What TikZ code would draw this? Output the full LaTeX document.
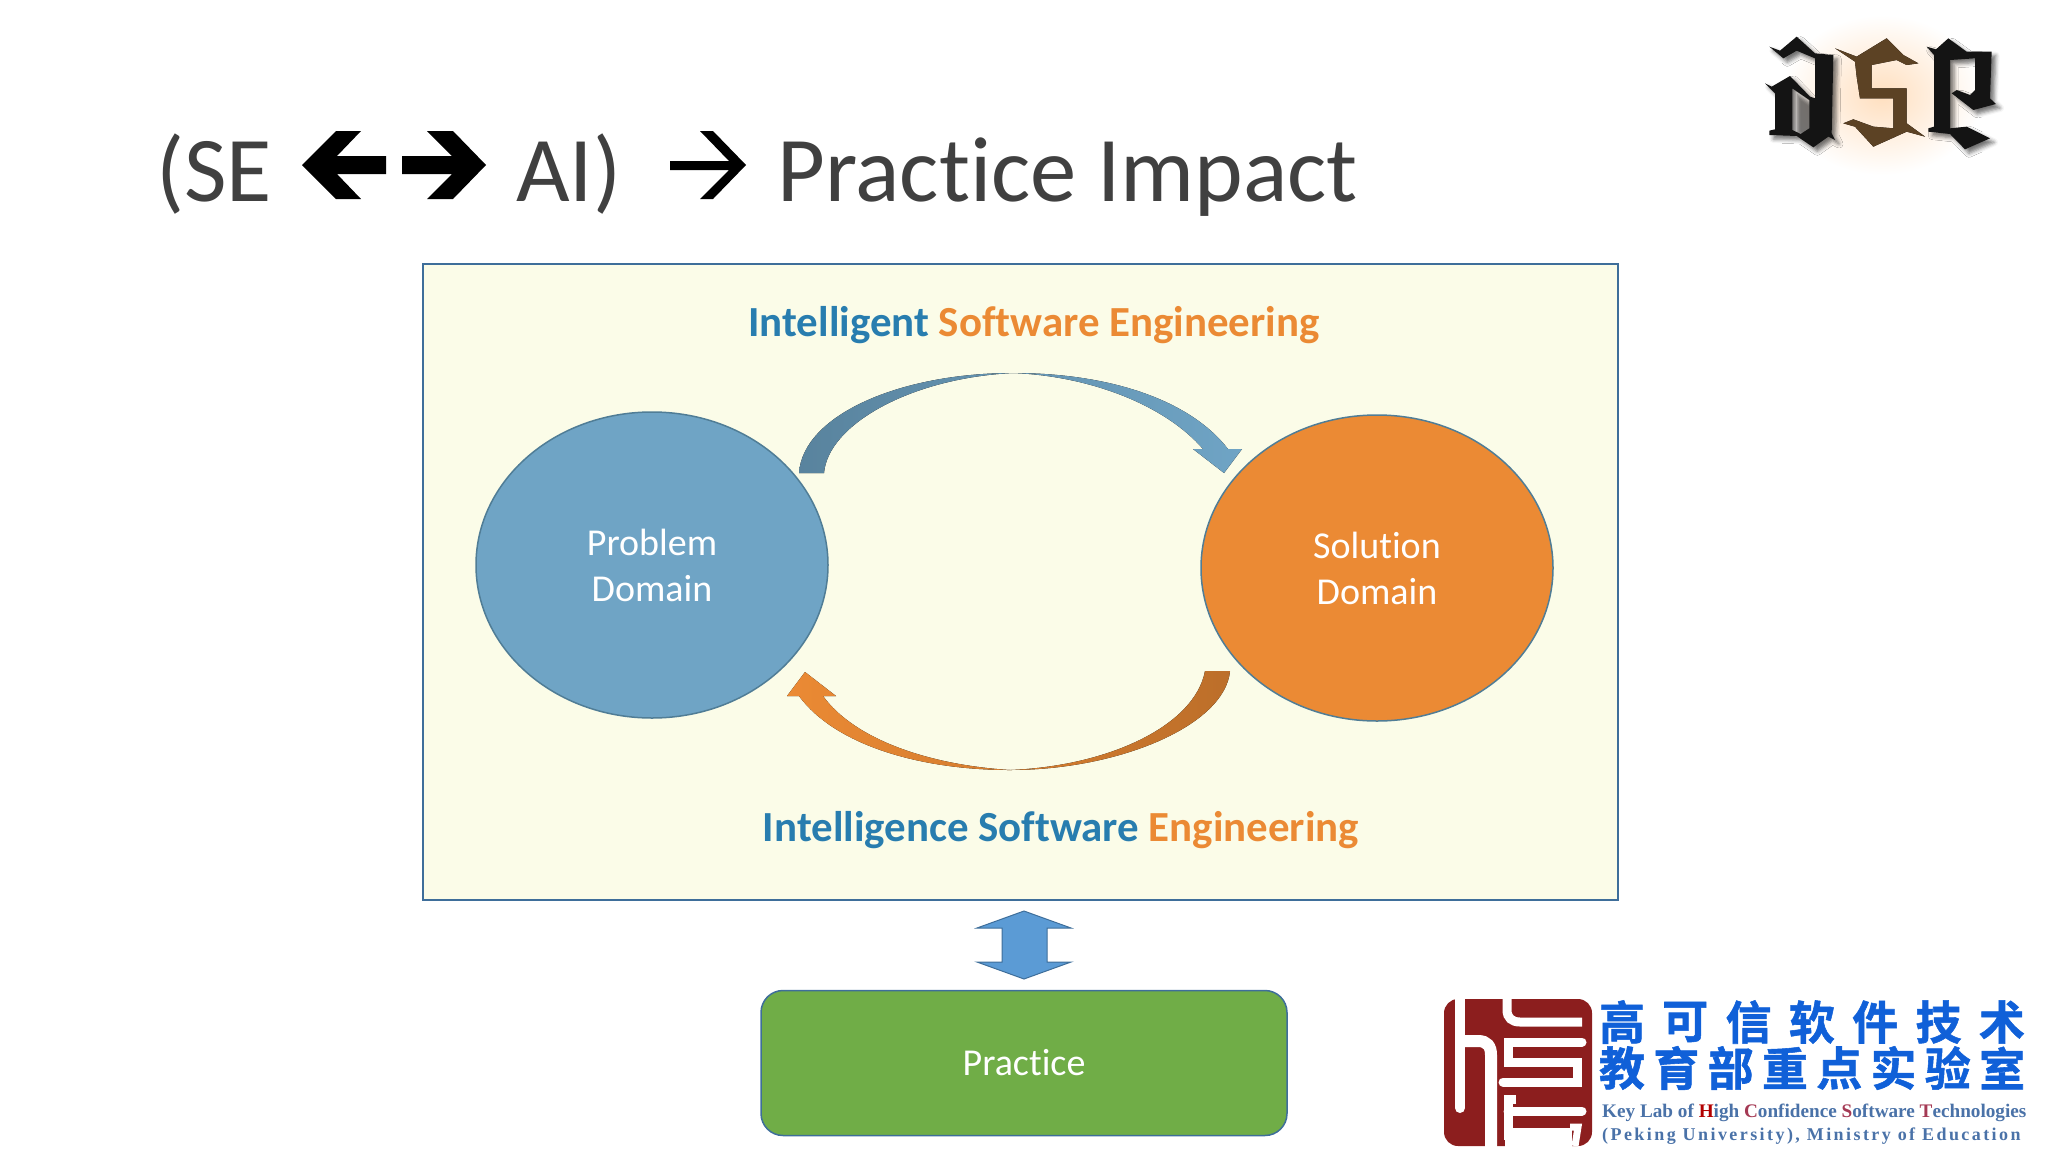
\documentclass[tikz,border=0pt]{standalone}
\usepackage{fontspec}
\usepackage{xcolor}
\usepackage{tikz}
\usetikzlibrary{shapes.geometric, shadows.blur}
\setmainfont{Carlito}[Ligatures=NoCommon]
\newfontfamily\cjkfont{Noto Sans CJK SC}[BoldFont={* Bold}, BoldFeatures={FakeBold=1.2}]
\newfontfamily\labserif{Liberation Serif}
\newfontfamily\labserifwide{Liberation Serif}[LetterSpace=13.5]
\definecolor{panelfill}{RGB}{251, 252, 232}
\definecolor{paneledge}{RGB}{62, 110, 154}
\definecolor{domainblue}{RGB}{111, 164, 197}
\definecolor{domainedge}{RGB}{80, 125, 150}
\definecolor{domainorange}{RGB}{235, 138, 52}
\definecolor{labelblue}{RGB}{40, 125, 175}
\definecolor{practicegreen}{RGB}{112, 173, 71}
\definecolor{linkblue}{RGB}{91, 155, 213}
\definecolor{logored}{RGB}{140, 30, 30}
\definecolor{logoblue}{RGB}{16, 96, 216}
\definecolor{logogrey}{RGB}{74, 114, 168}
\definecolor{logogold}{RGB}{196, 140, 50}
\definecolor{logobrown}{RGB}{92, 66, 36}

\begin{document}
\begin{tikzpicture}[
          x=1pt, y=-1pt,
          titletext/.style={anchor=base west, inner sep=0pt, font=\fontsize{92.6}{100}\selectfont, color=black!75},
          headtext/.style={anchor=base, inner sep=0pt, font=\fontsize{42.9}{48}\selectfont\bfseries},
          domainbox/.style={ellipse, draw=domainedge, line width=1.5pt, minimum width=352pt, minimum height=306pt, inner sep=0pt, align=center, text=white, font=\fontsize{38}{46}\selectfont},
          practicebox/.style={rectangle, draw=paneledge, fill=practicegreen, line width=1.5pt, rounded corners=22pt, minimum width=526pt, minimum height=145pt, text=white, font=\fontsize{38}{46}\selectfont},
          cjkrow/.style={inner sep=0pt, text=logoblue, font=\fontsize{46}{46}\selectfont\cjkfont\bfseries},
          logoline/.style={line width=9pt, draw=white, line cap=round},
          logoink/.style={fill=black!92, blur shadow={shadow xshift=4pt, shadow yshift=-4pt, shadow blur radius=4pt, shadow opacity=55}}
        ]
          \useasboundingbox (0,0) rectangle (2048,1152);

          % Title
          \node[titletext] (titleleft) at (156, 201) {(SE};
          \node[titletext] (titleai) at (516, 201) {AI)};
          \node[titletext] (titleimpact) at (777, 201) {Practice Impact};
          \fill (302,165) -- (336,131) -- (361,131) -- (337,156) -- (386,156) -- (386,174) -- (337,174) -- (361,199) -- (336,199) -- cycle;
          \fill (486,165) -- (453,131) -- (427,131) -- (452,156) -- (402,156) -- (402,174) -- (452,174) -- (427,199) -- (453,199) -- cycle;
          \fill (746,165) -- (713,131) -- (700,131) -- (729,161) -- (670,161) -- (670,170) -- (729,170) -- (700,199) -- (713,199) -- cycle;

          % Panel background
          \node[rectangle, draw=paneledge, fill=panelfill, line width=1.5pt, minimum width=1195pt, minimum height=636pt, inner sep=0pt] (panel) at (1020.5, 582) {};
          \node[headtext] (headtop) at (1034, 336) {\textcolor{labelblue}{Intelligent} \textcolor{domainorange}{Software Engineering}};
          \node[headtext] (headbottom) at (1061, 841) {\textcolor{labelblue}{Intelligence Software} \textcolor{domainorange}{Engineering}};

          % Domains
          \node[domainbox, fill=domainblue] (problem) at (652, 565) {Problem\\Domain};
          \node[domainbox, fill=domainorange] (solution) at (1377, 568) {Solution\\Domain};

          % Curved arrows between the domains
          \fill[left color=domainblue!80!black, right color=domainblue] (799,473) .. controls (803,415) and (900,373) .. (1013,373) .. controls (1110,373) and (1190,400) .. (1228,449) -- (1242,449) -- (1224,473) -- (1193,449) -- (1203,449) .. controls (1165,405) and (1090,376) .. (1013,373) .. controls (910,378) and (828,425) .. (824,473) -- cycle;
          \fill[left color=domainorange, right color=domainorange!80!black] (1230,671) .. controls (1225,725) and (1120,770) .. (1010,770) .. controls (920,770) and (835,745) .. (799,696) -- (787,696) -- (805,672) -- (836,696) -- (823,696) .. controls (855,740) and (930,765) .. (1010,770) .. controls (1110,766) and (1195,725) .. (1205,671) -- cycle;

          % Link to practice
          \filldraw[fill=linkblue, draw=paneledge, line width=1pt] (1024,911) -- (1071,928) -- (1047,928) -- (1047,962) -- (1071,962) -- (1024,979) -- (977,962) -- (1002,962) -- (1002,928) -- (977,928) -- cycle;
          \node[practicebox] (practice) at (1024, 1063) {Practice};

          % Logo, top right
          \shade[inner color=orange!25, outer color=white] (1782,15) rectangle (1982,175);
          \begin{scope}[shift={(1760,30)}, x=0.3333pt, y=-0.3333pt]
            \path[logoink, even odd rule] (28,50) -- (60,62) -- (110,20) -- (165,70) -- (220,75) -- (215,310) -- (225,330) -- (205,320) -- (160,352) -- (110,318) -- (28,315) -- (28,302) -- (45,298) -- (45,190) -- (15,160) -- (35,170) -- (90,138) -- (150,200) -- (165,205) -- (165,85) -- (110,62) -- (70,85) -- cycle (97,175) -- (148,210) -- (148,295) -- (122,312) -- (97,300) -- cycle;
          \end{scope}
          \begin{scope}[shift={(1740,20)}, x=0.3333pt, y=-0.3333pt]
            \fill[top color=logobrown, middle color=logogold, bottom color=logobrown] (285,85) -- (350,110) -- (440,55) -- (490,105) -- (535,130) -- (500,135) -- (470,120) -- (395,135) -- (395,205) -- (500,205) -- (500,310) -- (555,350) -- (500,335) -- (400,380) -- (345,320) -- (310,310) -- (340,298) -- (400,320) -- (460,325) -- (460,235) -- (360,235) -- (350,170) -- (345,125) -- cycle;
          \end{scope}
          \begin{scope}[shift={(1860,30)}, x=0.3333pt, y=-0.3333pt]
            \path[logoink] (200,50) -- (228,58) -- (265,25) -- (320,65) -- (395,65) -- (390,205) -- (408,222) -- (340,240) -- (275,190) -- (290,180) -- (330,195) -- (345,180) -- (345,85) -- (270,90) -- (270,295) -- (320,290) -- (390,325) -- (315,358) -- (270,312) -- (205,305) -- (205,295) -- (222,290) -- (222,75) -- cycle;
          \end{scope}

          % Logo, bottom right
          \fill[logored, rounded corners=14pt] (1444,999) rectangle (1592,1146);
          \fill[white] (1505,1128) rectangle (1572,1152);
          \draw[logoline, line width=10pt] (1460,992) -- (1460,1108);
          \draw[logoline, line width=12pt, line cap=butt] (1462,1041) -- (1478,1041) .. controls (1487,1041) and (1491,1046) .. (1491,1055) -- (1491,1150);
          \draw[logoline, line cap=butt] (1507,996) -- (1507,1010) .. controls (1507,1018) and (1512,1022) .. (1520,1022) -- (1582,1022);
          \draw[logoline] (1582,1042) -- (1508,1042) -- (1508,1062) -- (1577,1062) -- (1577,1082) -- (1503,1082);
          \draw[logoline, line cap=butt] (1516,1099) -- (1508,1099) -- (1508,1140);
          \draw[logoline] (1508,1111) -- (1582,1111);
          \draw[logoline, line width=7pt, line cap=butt] (1570,1127) -- (1578,1127) -- (1575,1146);

          \foreach \ch [count=\i from 0] in {高,可,信,软,件,技,术} {
            \node[cjkrow] (labtop\i) at ({1622+63.3*\i}, 1022) {\ch};
          }
          \foreach \ch [count=\i from 0] in {教,育,部,重,点,实,验,室} {
            \node[cjkrow] (labmid\i) at ({1622+54.3*\i}, 1068) {\ch};
          }
          \node[anchor=base west, inner sep=0pt, text=logogrey, font=\fontsize{19.2}{20}\selectfont\labserif\bfseries] (labname) at (1602, 1117) {Key Lab of \textcolor{red!70!black}{H}igh \textcolor{red!50!logogrey}{C}onfidence \textcolor{red!50!logogrey}{S}oftware \textcolor{red!50!logogrey}{T}echnologies};
          \node[anchor=base west, inner sep=0pt, text=logogrey, font=\fontsize{18}{20}\selectfont\labserifwide\bfseries] (labplace) at (1602, 1140) {(Peking University), Ministry of Education};
        \end{tikzpicture}
\end{document}
